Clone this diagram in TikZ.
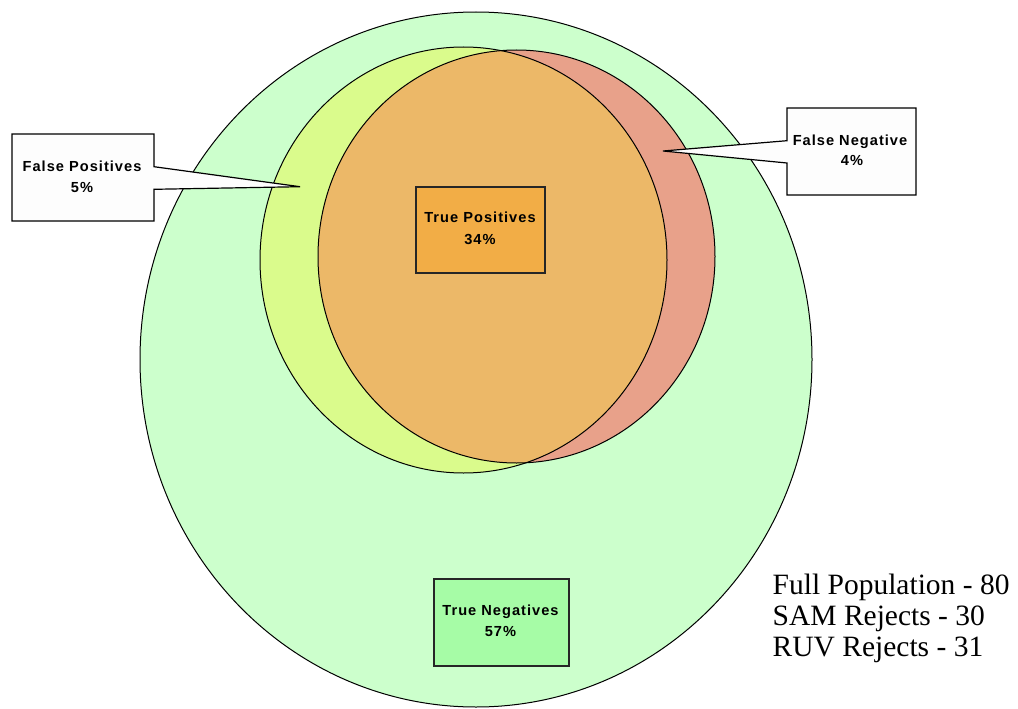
\documentclass[tikz,border=0pt]{standalone}
\usepackage{fontspec}
\setmainfont{Liberation Serif}
\newfontfamily\lblfont[LetterSpace=7]{Liberation Sans}
\definecolor{popgreen}{RGB}{204,255,204}
\definecolor{samyellow}{RGB}{218,251,140}
\definecolor{ruvred}{RGB}{232,161,138}
\definecolor{tporange}{RGB}{236,184,104}
\definecolor{tpbox}{RGB}{242,173,70}
\definecolor{tnbox}{RGB}{166,252,166}
\definecolor{calloutfill}{RGB}{253,253,253}
\tikzset{
  outline/.style={draw=black, line width=1pt},
  callout/.style={draw=black, line width=1.2pt, fill=calloutfill, line join=miter},
  catbox/.style={draw=black!85, line width=1.6pt, rectangle, inner sep=0pt},
  lbl/.style={font=\lblfont\bfseries\fontsize{14.6}{16}\selectfont, inner sep=0pt, anchor=base},
  legend/.style={font=\fontsize{29.5}{32}\selectfont, inner sep=0pt, anchor=base west}
}
\begin{document}
\begin{tikzpicture}[x=1pt,y=-1pt]
\useasboundingbox (0,0) rectangle (1018,709);
\fill[white] (0,0) rectangle (1018,709);
% full population
\draw[outline, fill=popgreen] (476,359.5) ellipse [x radius=336, y radius=347.5];
% SAM and RUV
\fill[samyellow] (463.5,260) ellipse [x radius=203.5, y radius=213];
\fill[ruvred] (516.5,256.5) ellipse [x radius=198.5, y radius=206.5];
\begin{scope}
  \clip (463.5,260) ellipse [x radius=203.5, y radius=213];
  \fill[tporange] (516.5,256.5) ellipse [x radius=198.5, y radius=206.5];
\end{scope}
\draw[outline] (463.5,260) ellipse [x radius=203.5, y radius=213];
\draw[outline] (516.5,256.5) ellipse [x radius=198.5, y radius=206.5];
% callouts
\coordinate (fptip) at (300,186.7);
\coordinate (fntip) at (663,151);
\draw[callout] (12,134) -- (154,134) -- (154,166.7) -- (fptip) -- (154,189.3) -- (154,221) -- (12,221) -- cycle;
\draw[callout] (787,108) -- (916,108) -- (916,195) -- (787,195) -- (787,163) -- (fntip) -- (787,140.7) -- cycle;
\node[lbl] (fp1) at (82,171.7) {False Positives};
\node[lbl] (fp2) at (82,192.7) {5\%};
\node[lbl] (fn1) at (850,145) {False Negative};
\node[lbl] (fn2) at (852,165) {4\%};
% category boxes
\node[catbox, fill=tpbox, minimum width=129pt, minimum height=86pt] (tp) at (480.5,230) {};
\node[lbl] (tp1) at (480,222.7) {True Positives};
\node[lbl] (tp2) at (480,244) {34\%};
\node[catbox, fill=tnbox, minimum width=135pt, minimum height=87pt] (tn) at (501.5,622.5) {};
\node[lbl] (tn1) at (500.5,615) {True Negatives};
\node[lbl] (tn2) at (500.5,636) {57\%};
% legend
\node[legend] (l1) at (772.5,594) {Full Population - 80};
\node[legend] (l2) at (772.5,625.7) {SAM Rejects - 30};
\node[legend] (l3) at (772.5,656.7) {RUV Rejects - 31};
\end{tikzpicture}
\end{document}
